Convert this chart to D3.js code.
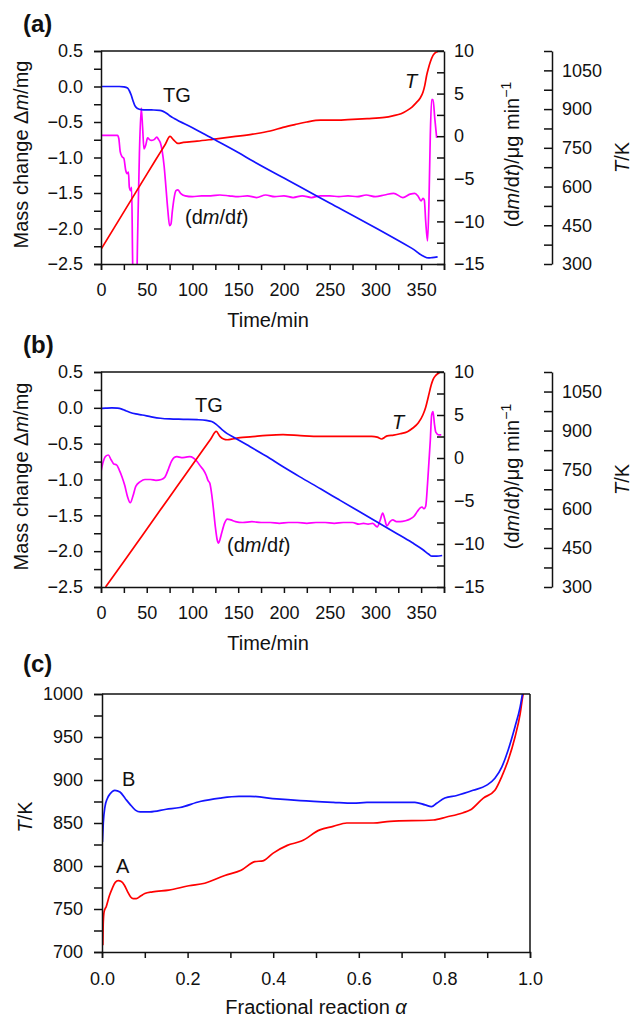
<!DOCTYPE html>
<html>
<head>
<meta charset="utf-8">
<script src="https://d3js.org/d3.v7.min.js"></script>
<style>
body { margin: 0; background: #fff; }
text { font-family: "Liberation Sans", Arial, Helvetica, sans-serif; fill: #111; }
</style>
</head>
<body>
<script>
// tick labels
var timeLabels = [0, 50, 100, 150, 200, 250, 300, 350];
var massLabels = [0.5, 0, -0.5, -1, -1.5, -2, -2.5];
var rateLabels = [10, 5, 0, -5, -10, -15];
var tempLabels = [300, 450, 600, 750, 900, 1050];
var alphaLabels = [0, 0.2, 0.4, 0.6, 0.8, 1];
var tempCLabels = [700, 750, 800, 850, 900, 950, 1000];

// (a) series: [time/min, value]
var tgA = [[0,0],[10,0],[20,0],[25,-0.005],[29,-0.02],[31,-0.06],[33,-0.12],[35,-0.2],[37,-0.27],[40,-0.31],[44,-0.325],[55,-0.33],[64,-0.335],[68,-0.35],[72,-0.38],[76,-0.42],[80,-0.45],[100,-0.58],[120,-0.72],[150,-0.93],[166,-1.05],[200,-1.29],[217,-1.41],[250,-1.64],[300,-1.99],[340,-2.28],[358,-2.415],[362,-2.41],[368,-2.4]];
var tempA = [[0,357],[15,444],[30,531],[45,618],[60,705],[70,762],[75.5,794],[79,782],[84,767],[90,771],[105,776],[122,783],[145,793],[166,803],[185,815],[199,829],[212,840],[225,850],[240,857],[254,857],[270,859],[291,863],[310,868],[319,874],[328,882],[334,893],[340,908],[345,926],[349,943],[352,965],[354,992],[356,1030],[358,1058],[360,1082],[363,1108],[365,1117],[368,1122]];
var rateA = [[0,0.1],[10,0.1],[18,0.1],[19.5,-0.3],[21,-1.8],[23,-2.4],[25,-2.6],[27,-4.0],[28.5,-4.4],[30,-4.2],[31,-6.0],[32.5,-6.4],[33.5,-6.0],[34.5,-14],[35.5,-20],[38.5,-20],[40,-12],[42,-2],[44,3.3],[45.5,1.0],[47,-1.5],[49,-1.0],[51,-0.2],[53,-0.4],[55,-0.5],[58,-0.4],[61,-0.1],[63,-0.4],[65,-0.8],[67,-1.8],[69,-3.5],[71,-6.0],[73,-8.6],[75,-10.5],[76.5,-10.3],[78,-8.8],[80,-7.2],[82,-6.4],[84,-6.3],[87,-6.7],[92,-7.0],[100,-7.1],[110,-7.0],[120,-7.0],[130,-6.9],[140,-7.0],[150,-7.1],[160,-7.0],[170,-7.2],[180,-6.9],[190,-7.1],[200,-7.0],[210,-7.2],[220,-7.0],[230,-7.2],[240,-7.0],[250,-7.0],[260,-7.1],[270,-7.0],[280,-7.1],[290,-6.9],[300,-7.1],[310,-6.9],[320,-6.7],[330,-7.2],[338,-6.8],[343,-6.7],[347,-7.1],[350,-7.6],[352,-7.3],[353.5,-7.5],[355,-10],[357,-12.3],[358.5,-8],[360,0],[361.5,4.3],[363,4.3],[365,2],[367,-0.2]];

// (b) series
var tgB = [[0,-0.01],[5,-0.005],[12,0],[18,-0.005],[22,-0.015],[27,-0.04],[32,-0.065],[38,-0.085],[45,-0.1],[55,-0.125],[65,-0.145],[75,-0.155],[90,-0.16],[105,-0.165],[115,-0.175],[121,-0.19],[126,-0.23],[132,-0.3],[138,-0.36],[145,-0.41],[160,-0.52],[180,-0.67],[200,-0.83],[217,-0.96],[240,-1.13],[260,-1.28],[280,-1.43],[300,-1.58],[320,-1.73],[340,-1.88],[352,-1.98],[358,-2.04],[362,-2.07],[367,-2.07],[373,-2.06]];
var tempB = [[5,300],[25,398],[45,497],[65,596],[85,695],[105,794],[120,868],[126,897],[130,878],[134,868],[138,865],[145,869],[152,873],[163,876],[181,882],[199,885],[218,881],[240,878],[272,878],[296,878],[302,875],[307,868],[310,874],[313,880],[320,883],[327,888],[335,896],[341,910],[347,930],[352,961],[355,990],[358,1032],[361,1075],[363,1096],[366,1112],[370,1122]];
var rateB = [[0,-1.6],[2,-0.6],[5,0.2],[8,0.35],[11,-0.2],[14,-0.7],[17,-0.8],[20,-1.4],[23,-2.2],[26,-3.2],[29,-4.5],[32,-5.2],[35,-4.4],[38,-3.3],[43,-2.75],[48,-2.5],[54,-2.5],[60,-2.6],[66,-2.5],[70,-2.2],[74,-1.2],[77,-0.4],[80,0.05],[83,0.15],[88,0.05],[93,0.1],[97,0.15],[101,0.0],[105,-0.4],[109,-1.0],[112,-1.4],[115,-2.0],[117,-2.6],[119,-2.95],[121,-4.2],[123,-6.0],[125,-8.0],[127,-9.5],[128.5,-9.9],[130,-9.5],[132,-8.7],[135,-7.6],[138,-7.1],[142,-7.2],[147,-7.4],[155,-7.5],[165,-7.4],[175,-7.5],[185,-7.5],[195,-7.6],[205,-7.5],[215,-7.5],[225,-7.6],[235,-7.5],[245,-7.5],[255,-7.6],[265,-7.5],[275,-7.5],[282,-7.7],[287,-7.6],[292,-7.7],[297,-7.6],[302,-8.0],[305,-7.3],[308,-6.4],[310,-7.0],[312.5,-7.9],[316,-7.4],[319,-7.2],[323,-7.4],[327,-7.4],[333,-7.3],[338,-7.1],[342,-6.8],[346,-6.2],[349,-5.8],[351,-5.7],[353,-5.9],[355,-5.6],[357,-3],[358.5,-0.5],[360,2],[361.5,5],[363,5.4],[364.5,4],[366,3.0],[369,2.7],[372,2.7]];

// (c) series: [alpha, T/K]
var curveA = [[0.002,708],[0.003,735],[0.005,747],[0.01,753],[0.017,765],[0.024,774],[0.031,781],[0.038,783],[0.045,782],[0.052,778],[0.06,770],[0.067,764],[0.073,762],[0.08,762],[0.09,765],[0.1,768],[0.118,770],[0.156,772],[0.203,777],[0.24,780],[0.287,789],[0.325,795],[0.357,805],[0.376,806],[0.4,815],[0.433,824],[0.466,829],[0.509,842],[0.54,846],[0.572,850],[0.634,850],[0.673,852],[0.774,853.5],[0.805,857],[0.844,862],[0.86,865],[0.891,879],[0.918,888],[0.934,904],[0.949,923],[0.965,950],[0.977,977],[0.983,997],[0.985,1002]];
var curveB = [[0.001,828],[0.003,850],[0.007,869],[0.012,878],[0.019,884],[0.03,888],[0.042,886],[0.055,878],[0.065,872],[0.078,865],[0.089,863],[0.112,863],[0.15,866],[0.182,868],[0.229,875],[0.276,879],[0.32,881],[0.346,881],[0.408,878],[0.463,876],[0.54,874],[0.587,873],[0.619,874],[0.696,874],[0.731,874],[0.755,871],[0.77,869],[0.782,873],[0.801,879],[0.829,882],[0.867,888],[0.899,894],[0.918,902],[0.934,915],[0.949,935],[0.965,962],[0.977,985],[0.983,1002]];

var W = 632, H = 1017;
var svg = d3.select('body').append('svg').attr('width', W).attr('height', H);

function only(list, f) {
    return function (v) {
        return list.some(function (l) { return Math.abs(l - v) < 1e-9 }) ? f(v) : '';
    }
}

function styleAxis(g) {
    g.select('.domain').attr('stroke', '#111').attr('stroke-width', 1.5);
    g.selectAll('.tick line').attr('stroke', '#111').attr('stroke-width', 1.5);
    g.selectAll('.tick text').attr('font-size', 18).attr('font-family', null);
}

// text made of parts: [string, 'i' | 'sup' | '']
function richText(g, x, y, parts, size, rotate, anchor) {
    var t = g.append('text')
        .attr('font-size', size)
        .attr('text-anchor', anchor || 'middle')
        .attr('transform', 'translate(' + x + ',' + y + ')' + (rotate ? ' rotate(-90)' : ''));
    parts.forEach(function (p) {
        var s = t.append('tspan').text(p[0]);
        if (p[1] === 'i') s.attr('font-style', 'italic');
        if (p[1] === 'sup') s.attr('font-size', size * 0.7).attr('dy', -size * 0.42);
    });
    return t;
}

function clip(id, x0, y0, x1, y1) {
    svg.append('clipPath').attr('id', id).append('rect')
        .attr('x', x0).attr('y', y0).attr('width', x1 - x0).attr('height', y1 - y0);
}

function timePanel(o) {
    var L = 101, R = 444, TA = 552;
    var x = d3.scaleLinear().domain([0, 375]).range([L, R]);
    var yM = d3.scaleLinear().domain([-2.5, 0.5]).range([o.bottom, o.top]);
    var yR = d3.scaleLinear().domain([-15, 10]).range([o.bottom, o.top]);
    var yT = d3.scaleLinear().domain([300, 1125]).range([o.bottom, o.top]);
    var g = svg.append('g');

    clip(o.id, L, o.top, R, o.bottom);
    var lines = g.append('g').attr('clip-path', 'url(#' + o.id + ')');
    function draw(data, y, color) {
        lines.append('path')
            .attr('d', d3.line().x(function (d) { return x(d[0]) }).y(function (d) { return y(d[1]) })
                .curve(d3.curveMonotoneX)(data))
            .attr('fill', 'none').attr('stroke', color).attr('stroke-width', 1.7)
            .attr('stroke-linejoin', 'round');
    }
    draw(o.rate, yR, '#ff00ff');
    draw(o.temp, yT, '#ff0000');
    draw(o.tg, yM, '#1414ff');

    g.append('line').attr('x1', L).attr('x2', R).attr('y1', o.top).attr('y2', o.top)
        .attr('stroke', '#111').attr('stroke-width', 1.5);

    g.append('g').attr('transform', 'translate(0,' + o.bottom + ')')
        .call(d3.axisBottom(x).tickValues(d3.range(0, 376, 25)).tickSizeOuter(0)
            .tickSize(6).tickPadding(13).tickFormat(only(timeLabels, d3.format('d'))))
        .call(styleAxis);
    g.append('g').attr('transform', 'translate(' + L + ',0)')
        .call(d3.axisLeft(yM).tickValues(d3.range(-2.5, 0.51, 0.25)).tickSizeOuter(0)
            .tickSize(7).tickPadding(11).tickFormat(only(massLabels, d3.format('.1f'))))
        .call(styleAxis);
    g.append('g').attr('transform', 'translate(' + R + ',0)')
        .call(d3.axisRight(yR).tickValues(d3.range(-15, 10.1, 2.5)).tickSizeOuter(0)
            .tickSizeInner(-7).tickPadding(10).tickFormat(only(rateLabels, d3.format('d'))))
        .call(styleAxis);
    g.append('g').attr('transform', 'translate(' + TA + ',0)')
        .call(d3.axisRight(yT).tickValues(d3.range(300, 1126, 75)).tickSizeOuter(0)
            .tickSizeInner(-8).tickPadding(10).tickFormat(only(tempLabels, d3.format('d'))))
        .call(styleAxis);

    var mid = (o.top + o.bottom) / 2 - 3;
    richText(g, 28, mid, [['Mass change \u0394', ''], ['m', 'i'], ['/mg', '']], 20, true);
    richText(g, 519, mid, [['(d', ''], ['m', 'i'], ['/d', ''], ['t', 'i'], [')/\u03bcg min', ''], ['\u22121', 'sup']], 20, true);
    richText(g, 629, mid + 3, [['T', 'i'], ['/K', '']], 20, true);
    richText(g, 268, o.bottom + 63, [['Time/min', '']], 20, false);

    richText(g, 23, o.top - 19, [['(' + o.name + ')', '']], 24, false, 'start').attr('font-weight', 'bold');
    richText(g, o.tgPos[0], o.tgPos[1], [['TG', '']], 20, false, 'start');
    richText(g, o.tPos[0], o.tPos[1], [['T', 'i']], 20, false, 'start');
    richText(g, o.rPos[0], o.rPos[1], [['(d', ''], ['m', 'i'], ['/d', ''], ['t', 'i'], [')', '']], 20, false, 'start');
}

timePanel({ id: 'ca', name: 'a', top: 51, bottom: 264, tg: tgA, temp: tempA, rate: rateA,
    tgPos: [163, 102], tPos: [405, 88], rPos: [185, 224] });
timePanel({ id: 'cb', name: 'b', top: 372, bottom: 587, tg: tgB, temp: tempB, rate: rateB,
    tgPos: [195, 412], tPos: [392, 429], rPos: [227, 552] });

// panel (c)
(function () {
    var L = 102, R = 530, top = 694, bottom = 952;
    var x = d3.scaleLinear().domain([0, 1]).range([L, R]);
    var y = d3.scaleLinear().domain([700, 1000]).range([bottom, top]);
    var g = svg.append('g');
    clip('cc', L, top, R, bottom);
    var lines = g.append('g').attr('clip-path', 'url(#cc)');
    var line = d3.line().x(function (d) { return x(d[0]) }).y(function (d) { return y(d[1]) })
        .curve(d3.curveMonotoneX);
    lines.append('path').attr('d', line(curveA)).attr('fill', 'none').attr('stroke', '#ff0000').attr('stroke-width', 1.7);
    lines.append('path').attr('d', line(curveB)).attr('fill', 'none').attr('stroke', '#1414ff').attr('stroke-width', 1.7);

    g.append('line').attr('x1', L).attr('x2', R).attr('y1', top).attr('y2', top)
        .attr('stroke', '#111').attr('stroke-width', 1.5);
    g.append('line').attr('x1', R).attr('x2', R).attr('y1', top).attr('y2', bottom)
        .attr('stroke', '#111').attr('stroke-width', 1.5);

    g.append('g').attr('transform', 'translate(0,' + bottom + ')')
        .call(d3.axisBottom(x).tickValues(d3.range(0, 1.01, 0.1)).tickSizeOuter(0)
            .tickSize(6).tickPadding(14).tickFormat(only(alphaLabels, d3.format('.1f'))))
        .call(styleAxis);
    g.append('g').attr('transform', 'translate(' + L + ',0)')
        .call(d3.axisLeft(y).tickValues(d3.range(700, 1001, 25)).tickSizeOuter(0)
            .tickSize(8).tickPadding(11).tickFormat(only(tempCLabels, d3.format('d'))))
        .call(styleAxis);

    richText(g, 32, (top + bottom) / 2 - 6, [['T', 'i'], ['/K', '']], 20, true);
    richText(g, (L + R) / 2, 1014, [['Fractional reaction ', ''], ['\u03b1', 'i']], 20, false);
    richText(g, 23, 672, [['(c)', '']], 24, false, 'start').attr('font-weight', 'bold');
    richText(g, 116, 873, [['A', '']], 20, false, 'start');
    richText(g, 122, 786, [['B', '']], 20, false, 'start');
})();
</script>
</body>
</html>
